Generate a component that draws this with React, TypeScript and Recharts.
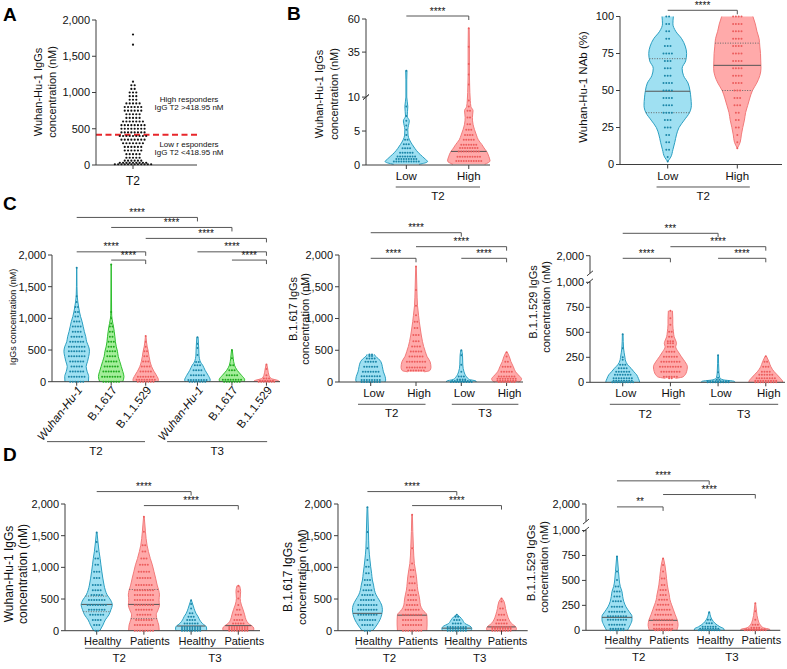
import React from 'react';
import { ComposedChart, Area, Scatter, XAxis, YAxis, ReferenceLine } from 'recharts';

// [value, relative half-width of the violin, dots drawn in that row]
type Lv = [number, number, number];
type Pal = { fill: string; stroke: string; dot: string };

const AXIS = '#3d3d3d';
const INK = '#111111';
const YW = 40;
const BLUE: Pal = { fill: '#9fe0f2', stroke: '#2b9fc1', dot: '#1c86a8' };
const RED: Pal = { fill: '#ffaaaa', stroke: '#f27a7a', dot: '#ec5d5d' };
const GREEN: Pal = { fill: '#a4ee9a', stroke: '#2fbf2f', dot: '#1faa1f' };

const ident = (v: number) => v;
const brkB = (v: number) => (v <= 10 ? v : 11.75 + (v - 10) * 0.195);
const brkK = (v: number) => (v <= 1000 ? v : 1100 + (v - 1000) * 0.166);

const nm2000 = [0, 500, 1000, 1500, 2000];
const nm2000Labels = ['0', '500', '1,000', '1,500', '2,000'];
const nmBroken = [0, 250, 500, 750, 1000, 2000];
const nmBrokenLabels = ['0', '250', '500', '750', '1,000', '2,000'];

// ---------- A ----------
const aCats = ['T2'];
const aCutoff = 418.95;
const aDots: [number, number][] = [
  [10, 12], [30, 9], [60, 6], [100, 5], [150, 5], [200, 6], [250, 6], [300, 7], [350, 8], [400, 9],
  [450, 8], [500, 8], [550, 8], [600, 7], [650, 5], [700, 5], [750, 6], [800, 6], [850, 5], [900, 3],
  [950, 3], [1000, 3], [1050, 2], [1100, 2], [1150, 1], [1660, 1], [1800, 1],
];

// ---------- B ----------
const lowHigh = ['Low', 'High'];
const bLeftTicks = [0, 5, 10, 35, 60];
const bLeftTickLabels = ['0', '5', '10', '35', '60'];
const bLeftLow: Lv[] = [
  [0.1, 0.6, 0], [0.5, 1, 11], [0.9, 0.88, 9], [1.25, 0.76, 8], [1.8, 0.57, 6], [2.45, 0.4, 4],
  [3.05, 0.27, 3], [3.7, 0.15, 2], [4.4, 0.08, 1], [5.2, 0.07, 1], [5.8, 0.1, 1], [6.5, 0.14, 1],
  [7.2, 0.04, 1], [8.6, 0.07, 1], [10, 0.02, 0], [14, 0.02, 0], [21, 0.03, 1],
];
const bLeftHigh: Lv[] = [
  [0.1, 0.75, 0], [0.6, 1, 11], [1.2, 0.95, 10], [2.0, 0.84, 9], [2.5, 0.72, 8], [3.0, 0.62, 7],
  [3.7, 0.45, 5], [4.4, 0.36, 4], [5.2, 0.27, 3], [6.0, 0.2, 2], [7.0, 0.17, 2], [8.0, 0.2, 2],
  [8.6, 0.1, 1], [9.5, 0.07, 1], [10.5, 0.04, 1], [18, 0.03, 1], [26, 0.03, 1], [39, 0.03, 1], [53, 0.02, 1],
];
const bRightTicks = [0, 25, 50, 75, 100];
const bRightTickLabels = ['0', '25', '50', '75', '100'];
const bRightLow: Lv[] = [
  [2, 0, 1], [5, 0.13, 1], [10, 0.22, 2], [15, 0.3, 2], [20, 0.37, 2], [25, 0.48, 3], [30, 0.7, 3],
  [35, 0.92, 4], [40, 1, 4], [45, 0.98, 4], [50, 0.94, 4], [55, 0.86, 4], [60, 0.67, 3], [65, 0.61, 3],
  [70, 0.76, 3], [75, 0.8, 4], [80, 0.74, 3], [85, 0.59, 2], [90, 0.34, 2], [95, 0.22, 2], [100, 0.24, 2],
];
const bRightHigh: Lv[] = [
  [11, 0, 1], [15, 0.12, 1], [20, 0.17, 1], [25, 0.23, 2], [30, 0.3, 2], [35, 0.35, 2], [40, 0.44, 3],
  [45, 0.53, 3], [50, 0.64, 3], [55, 0.82, 4], [60, 0.95, 4], [65, 1, 4], [70, 0.99, 4], [75, 0.98, 4],
  [80, 0.95, 4], [85, 0.92, 4], [90, 0.83, 4], [95, 0.76, 4], [100, 0.66, 4],
];

// ---------- C ----------
const cLeftCats = ['Wuhan-Hu-1', 'B.1.617', 'B.1.1.529', 'Wuhan-Hu-1', 'B.1.617', 'B.1.1.529'];
const cWuhanT2: Lv[] = [
  [0, 0.92, 6], [80, 0.94, 7], [160, 0.82, 6], [240, 0.74, 5], [320, 0.85, 6], [400, 0.94, 7], [480, 1, 7],
  [550, 0.94, 7], [630, 0.78, 6], [710, 0.71, 5], [790, 0.6, 4], [870, 0.51, 4], [950, 0.42, 3],
  [1030, 0.3, 2], [1100, 0.22, 2], [1180, 0.15, 2], [1260, 0.09, 1], [1350, 0.04, 1], [1500, 0.02, 0], [1800, 0.01, 1],
];
const cB617T2: Lv[] = [
  [0, 0.9, 7], [80, 1, 8], [160, 0.91, 7], [240, 0.79, 6], [320, 0.67, 5], [400, 0.55, 4], [480, 0.49, 4],
  [550, 0.4, 3], [630, 0.33, 3], [710, 0.29, 2], [790, 0.24, 2], [870, 0.18, 2], [920, 0.13, 1],
  [1000, 0.06, 1], [1100, 0.03, 1], [1400, 0.02, 0], [1850, 0.01, 1],
];
const cB529T2: Lv[] = [
  [0, 0.95, 7], [30, 1, 8], [80, 0.9, 7], [160, 0.66, 5], [240, 0.46, 4], [320, 0.34, 3], [400, 0.26, 2],
  [480, 0.2, 2], [550, 0.12, 1], [630, 0.06, 1], [720, 0.02, 1],
];
const cWuhanT3: Lv[] = [
  [0, 0.95, 7], [25, 1, 8], [100, 0.84, 6], [180, 0.6, 4], [260, 0.41, 3], [310, 0.24, 2], [420, 0.12, 1],
  [530, 0.1, 1], [600, 0.08, 1], [700, 0.05, 1],
];
const cB617T3: Lv[] = [
  [0, 0.95, 7], [30, 1, 8], [100, 0.75, 5], [180, 0.41, 3], [260, 0.2, 2], [370, 0.1, 1], [500, 0.03, 1],
];
const cB529T3: Lv[] = [
  [0, 1, 7], [15, 0.95, 6], [50, 0.38, 3], [100, 0.2, 1], [200, 0.1, 1], [270, 0.03, 1],
];
const lowHigh4 = ['Low', 'High', 'Low', 'High'];
const cmLowT2: Lv[] = [
  [0, 0.95, 8], [30, 1, 8], [90, 0.96, 8], [160, 0.85, 7], [240, 0.78, 6], [320, 0.68, 5], [370, 0.5, 4],
  [410, 0.3, 2], [435, 0.25, 2],
];
const cmHighT2: Lv[] = [
  [160, 0.55, 0], [180, 0.92, 7], [230, 1, 8], [320, 0.94, 8], [400, 0.74, 6], [480, 0.62, 5], [560, 0.51, 4],
  [640, 0.43, 3], [740, 0.35, 3], [850, 0.28, 2], [950, 0.22, 2], [1050, 0.17, 1], [1200, 0.1, 1],
  [1450, 0.06, 1], [1820, 0.02, 1],
];
const cmLowT3: Lv[] = [
  [0, 1, 9], [15, 0.98, 8], [40, 0.54, 4], [85, 0.34, 3], [160, 0.18, 1], [270, 0.1, 1], [420, 0.08, 1], [500, 0.03, 1],
];
const cmHighT3: Lv[] = [
  [0, 0.8, 7], [20, 0.95, 8], [50, 1, 8], [85, 0.89, 7], [160, 0.6, 5], [240, 0.45, 4], [320, 0.29, 2],
  [400, 0.18, 1], [467, 0.05, 1],
];
const crLowT2: Lv[] = [
  [0, 1, 9], [15, 0.98, 8], [40, 0.92, 8], [75, 0.82, 7], [105, 0.66, 6], [140, 0.49, 4], [175, 0.29, 3],
  [225, 0.15, 1], [250, 0.13, 1], [340, 0.05, 1], [480, 0.02, 1],
];
const crHighT2: Lv[] = [
  [40, 0.3, 2], [55, 0.75, 6], [105, 0.95, 8], [155, 1, 9], [205, 0.86, 8], [255, 0.65, 6], [305, 0.46, 4],
  [355, 0.31, 3], [390, 0.36, 3], [410, 0.33, 3], [455, 0.22, 2], [505, 0.18, 2], [575, 0.14, 1],
  [640, 0.14, 1], [715, 0.12, 1],
];
const crLowT3: Lv[] = [[0, 1, 9], [10, 0.95, 9], [25, 0.3, 2], [45, 0.1, 1], [100, 0.05, 1], [270, 0.02, 1]];
const crHighT3: Lv[] = [
  [0, 1, 9], [15, 0.98, 9], [40, 0.86, 8], [75, 0.67, 6], [105, 0.5, 4], [155, 0.3, 3], [205, 0.19, 2], [260, 0.04, 1],
];

// ---------- D ----------
const hp4 = ['Healthy', 'Patients', 'Healthy', 'Patients'];
const dlHT2: Lv[] = [
  [0, 0.2, 2], [90, 0.4, 3], [170, 0.55, 4], [250, 0.78, 6], [330, 0.91, 7], [405, 1, 8], [485, 0.89, 7],
  [565, 0.67, 5], [640, 0.55, 4], [720, 0.47, 4], [830, 0.39, 3], [930, 0.33, 3], [1040, 0.27, 2],
  [1140, 0.22, 2], [1250, 0.15, 1], [1400, 0.08, 1], [1550, 0.02, 1],
];
const dlPT2: Lv[] = [
  [0, 0.98, 8], [90, 0.95, 8], [170, 0.85, 7], [250, 0.79, 6], [330, 0.91, 7], [405, 1, 8], [485, 0.97, 8],
  [565, 1, 8], [640, 0.95, 8], [720, 0.85, 7], [830, 0.75, 6], [930, 0.65, 5], [1040, 0.54, 4],
  [1140, 0.41, 3], [1250, 0.29, 2], [1350, 0.2, 2], [1560, 0.1, 1], [1800, 0.02, 1],
];
const dlHT3: Lv[] = [
  [0, 0.95, 8], [25, 1, 8], [60, 0.98, 8], [115, 0.72, 6], [170, 0.55, 4], [220, 0.45, 3], [275, 0.31, 2],
  [350, 0.19, 1], [420, 0.1, 1], [480, 0.02, 1],
];
const dlPT3: Lv[] = [
  [0, 0.95, 8], [25, 1, 8], [60, 0.95, 8], [115, 0.65, 5], [170, 0.5, 4], [250, 0.41, 3], [330, 0.31, 2],
  [405, 0.2, 1], [510, 0.12, 1], [620, 0.15, 1], [710, 0.08, 1],
];
const dmHT2: Lv[] = [
  [0, 0.35, 3], [90, 0.63, 5], [170, 0.83, 7], [250, 0.95, 8], [330, 1, 8], [405, 0.95, 8], [485, 0.78, 6],
  [565, 0.58, 5], [640, 0.47, 4], [720, 0.41, 3], [800, 0.33, 3], [905, 0.28, 2], [1010, 0.22, 2],
  [1115, 0.17, 1], [1300, 0.1, 1], [1560, 0.07, 1], [1950, 0.02, 1],
];
const dmPT2: Lv[] = [
  [0, 0.98, 8], [90, 1, 8], [170, 1, 8], [250, 0.98, 8], [330, 0.7, 6], [405, 0.55, 5], [485, 0.51, 4],
  [565, 0.45, 4], [640, 0.38, 3], [750, 0.33, 3], [850, 0.29, 2], [960, 0.22, 2], [1060, 0.15, 1],
  [1300, 0.09, 1], [1830, 0.02, 1],
];
const dmHT3: Lv[] = [[0, 0.95, 8], [30, 1, 8], [60, 0.95, 8], [115, 0.54, 4], [170, 0.38, 3], [220, 0.2, 2], [250, 0.04, 1]];
const dmPT3: Lv[] = [
  [0, 0.95, 8], [30, 1, 8], [60, 0.95, 8], [115, 0.67, 5], [170, 0.51, 4], [250, 0.38, 3], [350, 0.27, 2],
  [460, 0.17, 1], [510, 0.03, 1],
];
const drHT2: Lv[] = [
  [0, 0.7, 6], [15, 0.75, 6], [55, 0.89, 7], [105, 1, 8], [140, 1, 8], [185, 0.82, 7], [235, 0.6, 5],
  [290, 0.45, 4], [340, 0.38, 3], [390, 0.33, 3], [440, 0.22, 2], [505, 0.15, 1], [590, 0.1, 1], [740, 0.02, 1],
];
const drPT2: Lv[] = [
  [0, 0.92, 7], [15, 0.95, 8], [55, 1, 8], [105, 0.94, 8], [155, 0.81, 7], [205, 0.69, 6], [255, 0.57, 5],
  [305, 0.46, 4], [355, 0.41, 3], [405, 0.34, 3], [455, 0.28, 2], [520, 0.23, 2], [590, 0.18, 1],
  [655, 0.12, 1], [720, 0.03, 1],
];
const drHT3: Lv[] = [[0, 1, 9], [15, 0.98, 8], [35, 0.72, 6], [70, 0.39, 3], [105, 0.2, 2], [180, 0.03, 1]];
const drPT3: Lv[] = [[0, 1, 9], [10, 0.95, 8], [25, 0.55, 4], [55, 0.33, 3], [105, 0.18, 1], [190, 0.08, 1], [270, 0.02, 1]];

// significance brackets: from / to category position, height in axis units
type Br = { a: number; b: number; y: number; t: string };
type Grp = { a: number; b: number; t: string };
const S4 = '****';

interface Violin { pos: number; pal: Pal; lv: Lv[]; med?: number[]; qs?: number[] }
interface Geo { axisX: number; axisEnd: number; yTop: number; yZero: number; cTop: number; cBottom: number; mr: number }
interface PanelDef {
  geo: Geo;
  xDomain: [number, number];
  yDomain: [number, number];
  yTicks: number[];
  yLabels: string[];
  positions: number[];
  xLabels: string[];
  labelDx: number;
  labelDy: number;
  labelSize: number;
  rotate?: boolean;
  halfW: number;
  dotPx: number;
  yMap?: (v: number) => number;
  violins: Violin[];
  brackets: Br[];
  groups: Grp[];
  groupY: number;
  pieces?: [number, number][];
  swarm?: [number, number][];
  cutoff?: number;
}

const bLeftYTicks = bLeftTicks.map(brkB);
const brokenYTicks = nmBroken.map(brkK);

const panels: PanelDef[] = [
  {
    geo: { axisX: 96, axisEnd: 197, yTop: 20, yZero: 165, cTop: 0, cBottom: 200, mr: 4 },
    xDomain: [0.075, 2.6], yDomain: [0, 2000], yTicks: nm2000, yLabels: nm2000Labels,
    positions: [1], xLabels: aCats, labelDx: 0, labelDy: 5, labelSize: 12,
    halfW: 0, dotPx: 3.3, violins: [], brackets: [], groups: [], groupY: 0,
    swarm: aDots, cutoff: aCutoff,
  },
  {
    geo: { axisX: 366, axisEnd: 490, yTop: 19, yZero: 165, cTop: 0, cBottom: 210, mr: 8 },
    xDomain: [0.354, 2.262], yDomain: [0, brkB(60)], yTicks: bLeftYTicks, yLabels: bLeftTickLabels,
    positions: [1, 2], xLabels: lowHigh, labelDx: 0, labelDy: 1, labelSize: 11.5,
    halfW: 0.34, dotPx: 2.6, yMap: brkB,
    violins: [
      { pos: 1, pal: BLUE, lv: bLeftLow },
      { pos: 2, pal: RED, lv: bLeftHigh, med: [2.0] },
    ],
    brackets: [{ a: 1, b: 2, y: 21.94, t: S4 }],
    groups: [{ a: 0.83, b: 2.18, t: 'T2' }], groupY: -3.24,
    pieces: [[0, 10], [brkB(10), brkB(60)]],
  },
  {
    geo: { axisX: 620, axisEnd: 782, yTop: 16.5, yZero: 164.5, cTop: 0, cBottom: 210, mr: 4 },
    xDomain: [0.315, 2.642], yDomain: [0, 100], yTicks: bRightTicks, yLabels: bRightTickLabels,
    positions: [1, 2], xLabels: lowHigh, labelDx: 0, labelDy: 1, labelSize: 11.5,
    halfW: 0.34, dotPx: 2.8,
    violins: [
      { pos: 1, pal: BLUE, lv: bRightLow, med: [49.5], qs: [35, 71.5] },
      { pos: 2, pal: RED, lv: bRightHigh, med: [67], qs: [50, 82] },
    ],
    brackets: [{ a: 1, b: 2, y: 104.2, t: S4 }],
    groups: [{ a: 0.84, b: 2.18, t: 'T2' }], groupY: -15.2,
  },
  {
    geo: { axisX: 52, axisEnd: 280, yTop: 255, yZero: 381.7, cTop: 200, cBottom: 465, mr: 6 },
    xDomain: [0.284, 6.893], yDomain: [0, 2000], yTicks: nm2000, yLabels: nm2000Labels,
    positions: [1, 2, 3, 4.5, 5.5, 6.5], xLabels: cLeftCats, labelDx: 0, labelDy: 0, labelSize: 11.5, rotate: true,
    halfW: 0.37, dotPx: 2.6,
    violins: [
      { pos: 1, pal: BLUE, lv: cWuhanT2 },
      { pos: 2, pal: GREEN, lv: cB617T2 },
      { pos: 3, pal: RED, lv: cB529T2 },
      { pos: 4.5, pal: BLUE, lv: cWuhanT3 },
      { pos: 5.5, pal: GREEN, lv: cB617T3 },
      { pos: 6.5, pal: RED, lv: cB529T3 },
    ],
    brackets: [
      { a: 1, b: 4.5, y: 2593, t: S4 }, { a: 2, b: 5.5, y: 2435, t: S4 }, { a: 3, b: 6.5, y: 2262, t: S4 },
      { a: 1, b: 3, y: 2050, t: S4 }, { a: 2, b: 3, y: 1920, t: S4 },
      { a: 4.5, b: 6.5, y: 2050, t: S4 }, { a: 5.5, b: 6.5, y: 1920, t: S4 },
    ],
    groups: [{ a: 0.14, b: 2.98, t: 'T2' }, { a: 3.62, b: 6.52, t: 'T3' }], groupY: -946,
  },
  {
    geo: { axisX: 339, axisEnd: 523, yTop: 255, yZero: 382, cTop: 200, cBottom: 425, mr: 6 },
    xDomain: [0.3, 4.362], yDomain: [0, 2000], yTicks: nm2000, yLabels: nm2000Labels,
    positions: [1, 2, 3, 4], xLabels: lowHigh4, labelDx: 3, labelDy: 1, labelSize: 11.5,
    halfW: 0.33, dotPx: 2.6,
    violins: [
      { pos: 1, pal: BLUE, lv: cmLowT2 },
      { pos: 2, pal: RED, lv: cmHighT2 },
      { pos: 3, pal: BLUE, lv: cmLowT3 },
      { pos: 4, pal: RED, lv: cmHighT3 },
    ],
    brackets: [
      { a: 1, b: 3, y: 2351, t: S4 }, { a: 2, b: 4, y: 2131, t: S4 },
      { a: 1, b: 2, y: 1948, t: S4 }, { a: 3, b: 4, y: 1948, t: S4 },
    ],
    groups: [{ a: 0.72, b: 2.21, t: 'T2' }, { a: 2.79, b: 4.26, t: 'T3' }], groupY: -351,
  },
  {
    geo: { axisX: 590, axisEnd: 785, yTop: 255.7, yZero: 382.3, cTop: 200, cBottom: 425, mr: 2 },
    xDomain: [0.314, 4.403], yDomain: [0, brkK(2000)], yTicks: brokenYTicks, yLabels: nmBrokenLabels,
    positions: [1, 2, 3, 4], xLabels: lowHigh4, labelDx: 3, labelDy: 1, labelSize: 11.5,
    halfW: 0.356, dotPx: 2.6,
    violins: [
      { pos: 1, pal: BLUE, lv: crLowT2 },
      { pos: 2, pal: RED, lv: crHighT2 },
      { pos: 3, pal: BLUE, lv: crLowT3 },
      { pos: 4, pal: RED, lv: crHighT3 },
    ],
    brackets: [
      { a: 1, b: 3, y: 1490, t: '***' }, { a: 2, b: 4, y: 1356, t: S4 },
      { a: 1, b: 2, y: 1240, t: S4 }, { a: 3, b: 4, y: 1240, t: S4 },
    ],
    groups: [{ a: 0.73, b: 2.21, t: 'T2' }, { a: 2.81, b: 4.26, t: 'T3' }], groupY: -220,
    pieces: [[0, 1010], [1090, brkK(2000)]],
  },
  {
    geo: { axisX: 65, axisEnd: 260, yTop: 504, yZero: 630.7, cTop: 470, cBottom: 669, mr: 6 },
    xDomain: [0.328, 4.46], yDomain: [0, 2000], yTicks: nm2000, yLabels: nm2000Labels,
    positions: [1, 2, 3, 4], xLabels: hp4, labelDx: 6, labelDy: 0, labelSize: 11,
    halfW: 0.33, dotPx: 2.6,
    violins: [
      { pos: 1, pal: BLUE, lv: dlHT2, med: [415], qs: [300, 547] },
      { pos: 2, pal: RED, lv: dlPT2, med: [415], qs: [190, 650] },
      { pos: 3, pal: BLUE, lv: dlHT3, med: [74] },
      { pos: 4, pal: RED, lv: dlPT3, med: [80] },
    ],
    brackets: [{ a: 1, b: 3, y: 2196, t: S4 }, { a: 2, b: 4, y: 1975, t: S4 }],
    groups: [{ a: 0.75, b: 2.2, t: 'T2' }, { a: 2.76, b: 4.25, t: 'T3' }], groupY: -278,
  },
  {
    geo: { axisX: 338.3, axisEnd: 528, yTop: 504, yZero: 630.7, cTop: 470, cBottom: 669, mr: 6 },
    xDomain: [0.342, 4.586], yDomain: [0, 2000], yTicks: nm2000, yLabels: nm2000Labels,
    positions: [1, 2, 3, 4], xLabels: hp4, labelDx: 6, labelDy: 0, labelSize: 11,
    halfW: 0.335, dotPx: 2.6,
    violins: [
      { pos: 1, pal: BLUE, lv: dmHT2, med: [274] },
      { pos: 2, pal: RED, lv: dmPT2, med: [245] },
      { pos: 3, pal: BLUE, lv: dmHT3, med: [40] },
      { pos: 4, pal: RED, lv: dmPT3, med: [60] },
    ],
    brackets: [{ a: 1, b: 3, y: 2196, t: S4 }, { a: 2, b: 4, y: 1975, t: S4 }],
    groups: [{ a: 0.75, b: 2.24, t: 'T2' }, { a: 2.77, b: 4.26, t: 'T3' }], groupY: -278,
  },
  {
    geo: { axisX: 585.7, axisEnd: 780, yTop: 504, yZero: 630.3, cTop: 470, cBottom: 669, mr: 6 },
    xDomain: [0.328, 4.542], yDomain: [0, brkK(2000)], yTicks: brokenYTicks, yLabels: nmBrokenLabels,
    positions: [1, 2, 3, 4], xLabels: hp4, labelDx: 6, labelDy: 0, labelSize: 11,
    halfW: 0.325, dotPx: 2.6,
    violins: [
      { pos: 1, pal: BLUE, lv: drHT2, med: [130] },
      { pos: 2, pal: RED, lv: drPT2, med: [100] },
      { pos: 3, pal: BLUE, lv: drHT3 },
      { pos: 4, pal: RED, lv: drPT3 },
    ],
    brackets: [{ a: 1, b: 3, y: 1498, t: S4 }, { a: 2, b: 4, y: 1361, t: S4 }, { a: 1, b: 2, y: 1237, t: '**' }],
    groups: [{ a: 0.75, b: 2.19, t: 'T2' }, { a: 2.77, b: 4.22, t: 'T3' }], groupY: -180,
    pieces: [[0, 1010], [1090, brkK(2000)]],
  },
];

const letters: [string, number, number][] = [['A', 3, 21], ['B', 287, 20], ['C', 3, 210], ['D', 3, 461]];
const titles: [string, number, number, number][] = [
  ['Wuhan-Hu-1 IgGs', 37.5, 92, 11], ['concentration (nM)', 51.7, 92, 11],
  ['Wuhan-Hu-1 IgGs', 319, 94, 11], ['concentration (nM)', 334, 94, 11],
  ['Wuhan-Hu-1 NAb (%)', 582.5, 87, 11.5],
  ['IgGs concentration (nM)', 12.5, 317, 9],
  ['B.1.617 IgGs', 293, 309, 11], ['concentration (nM)', 305, 319, 11],
  ['B.1.1.529 IgGs', 532.5, 302, 11], ['concentration (nM)', 546, 307, 11],
  ['Wuhan-Hu-1 IgGs', 8.5, 574, 12], ['concentration (nM)', 22.5, 574, 12],
  ['B.1.617 IgGs', 288, 577, 12], ['concentration (nM)', 301.7, 577, 11.5],
  ['B.1.1.529 IgGs', 531, 563, 11.5], ['concentration (nM)', 544, 567, 11],
];
const aNotes: [string, number][] = [
  ['High responders', 102], ['IgG T2 >418.95 nM', 110], ['Low r esponders', 147], ['IgG T2 <418.95 nM', 154.5],
];

function relAt(lv: Lv[], v: number) {
  for (let i = 1; i < lv.length; i++) {
    const [v0, r0] = lv[i - 1];
    const [v1, r1] = lv[i];
    if (v >= v0 && v <= v1) return r0 + ((r1 - r0) * (v - v0)) / (v1 - v0);
  }
  return 0;
}

function rowDots(lv: Lv[], pos: number, halfW: number, gap: number, map: (v: number) => number) {
  const out: { x: number; y: number }[] = [];
  lv.forEach(([v, rel, n]) => {
    if (n <= 0) return;
    const room = 0.8 * rel * halfW;
    const g = n > 1 ? Math.min(gap, (2 * room) / (n - 1)) : 0;
    for (let k = 0; k < n; k++) out.push({ x: pos + (k - (n - 1) / 2) * g, y: map(v) });
  });
  return out;
}

// text above a bracket / below a group line, placed from the line's own box
const starLabel = (t: string) => (lp: any) => {
  const vb = lp.viewBox;
  return <text x={vb.x + vb.width / 2} y={vb.y - 1.5} textAnchor="middle" fontSize={10} fill={INK}>{t}</text>;
};
const groupLabel = (t: string) => (lp: any) => {
  const vb = lp.viewBox;
  return <text x={vb.x + vb.width / 2} y={vb.y + vb.height + 4} dy="0.8em" textAnchor="middle" fontSize={11.5} fill={INK}>{t}</text>;
};

function CatTick(props: any) {
  const { x, y, payload, p } = props;
  const i = p.positions.indexOf(payload.value);
  const label = p.xLabels[i] ?? '';
  if (p.rotate) {
    return (
      <g transform={`translate(${x + 3},${y})`}>
        <text transform="rotate(-52)" textAnchor="end" dy="0.35em" fontSize={p.labelSize} fill={INK}
          fontStyle={label.startsWith('Wuhan') ? 'italic' : 'normal'}>{label}</text>
      </g>
    );
  }
  return (
    <text x={x + p.labelDx} y={y + p.labelDy} dy="0.71em" textAnchor="middle" fontSize={p.labelSize} fill={INK}>{label}</text>
  );
}

function Panel({ p }: { p: PanelDef }) {
  const g = p.geo;
  const left = g.axisX - YW;
  const width = g.axisEnd + g.mr - left;
  const mt = g.yTop - g.cTop;
  const plotH = g.yZero - g.yTop;
  const height = g.cBottom - g.cTop;
  const hx = height - mt - plotH;
  const slotPx = (g.axisEnd - g.axisX) / (p.xDomain[1] - p.xDomain[0]);
  const unitPx = plotH / (p.yDomain[1] - p.yDomain[0]);
  const map = p.yMap ?? ident;
  const gap = p.dotPx / slotPx;
  const x0 = p.xDomain[0];
  const drop = 4 / unitPx;
  const sx = 3 / slotPx;
  const sy = 2.5 / unitPx;

  return (
    <div style={{ position: 'absolute', left, top: g.cTop }}>
      <ComposedChart layout="vertical" width={width} height={height} margin={{ top: mt, right: g.mr, bottom: 0, left: 0 }}>
        <XAxis type="number" domain={p.xDomain} ticks={p.positions} interval={0} height={hx} tickSize={4}
          stroke={AXIS} tick={(t: any) => <CatTick {...t} p={p} />} />
        <YAxis type="number" dataKey="y" reversed domain={p.yDomain} ticks={p.yTicks} interval={0} width={YW} tickSize={4}
          stroke={AXIS} axisLine={!p.pieces} tick={{ fontSize: 11, fill: INK }}
          tickFormatter={(v: number) => p.yLabels[p.yTicks.indexOf(v)] ?? ''} />
        {p.pieces && p.pieces.map(([a, b], i) => (
          <ReferenceLine key={`pc${i}`} segment={[{ x: x0, y: a }, { x: x0, y: b }]} stroke={AXIS} ifOverflow="visible" />
        ))}
        {p.pieces && p.pieces.map(([a, b], i) => (
          <ReferenceLine key={`sl${i}`} segment={[{ x: x0 - sx, y: (i === 0 ? b : a) - sy }, { x: x0 + sx, y: (i === 0 ? b : a) + sy }]}
            stroke={AXIS} ifOverflow="visible" />
        ))}
        {p.violins.map((v, i) => (
          <Area key={`v${i}`} data={v.lv.map(([val, rel]) => ({ y: map(val), r: [v.pos - rel * p.halfW, v.pos + rel * p.halfW] }))}
            dataKey="r" type="monotone" fill={v.pal.fill} fillOpacity={1} stroke={v.pal.stroke} strokeWidth={1}
            dot={false} activeDot={false} isAnimationActive={false} />
        ))}
        {p.violins.map((v, i) => (
          <Scatter key={`d${i}`} data={rowDots(v.lv, v.pos, p.halfW, gap, map)} dataKey="x" isAnimationActive={false}
            shape={(s: any) => <circle cx={s.cx} cy={s.cy} r={1} fill={v.pal.dot} />} />
        ))}
        {p.violins.flatMap((v, i) => (v.med ?? []).map((m, j) => {
          const w = relAt(v.lv, m) * p.halfW;
          return <ReferenceLine key={`m${i}-${j}`} segment={[{ x: v.pos - w, y: map(m) }, { x: v.pos + w, y: map(m) }]}
            stroke="#555" strokeWidth={1} ifOverflow="visible" />;
        }))}
        {p.violins.flatMap((v, i) => (v.qs ?? []).map((m, j) => {
          const w = relAt(v.lv, m) * p.halfW;
          return <ReferenceLine key={`q${i}-${j}`} segment={[{ x: v.pos - w, y: map(m) }, { x: v.pos + w, y: map(m) }]}
            stroke="#666" strokeWidth={1} strokeDasharray="1 1.5" ifOverflow="visible" />;
        }))}
        {p.swarm && (
          <Scatter data={p.swarm.flatMap(([val, n]) => Array.from({ length: n }, (_, k) => ({ x: 1 + (k - (n - 1) / 2) * gap, y: val })))}
            dataKey="x" isAnimationActive={false} shape={(s: any) => <circle cx={s.cx} cy={s.cy} r={1.1} fill="#111" />} />
        )}
        {p.cutoff !== undefined && (
          <ReferenceLine y={p.cutoff} stroke="#e8262b" strokeWidth={2} strokeDasharray="6 3.5" ifOverflow="visible" />
        )}
        {p.brackets.map((b, i) => (
          <ReferenceLine key={`b${i}`} segment={[{ x: b.a, y: b.y }, { x: b.b, y: b.y }]} stroke="#555" ifOverflow="visible"
            label={starLabel(b.t)} />
        ))}
        {p.brackets.map((b, i) => (
          <ReferenceLine key={`bd${i}`} segment={[{ x: b.b, y: b.y }, { x: b.b, y: b.y - drop }]} stroke="#555" ifOverflow="visible" />
        ))}
        {p.groups.map((gr, i) => (
          <ReferenceLine key={`g${i}`} segment={[{ x: gr.a, y: p.groupY }, { x: gr.b, y: p.groupY }]} stroke="#555" ifOverflow="visible"
            label={groupLabel(gr.t)} />
        ))}
      </ComposedChart>
    </div>
  );
}

export default function App() {
  return (
    <div style={{ position: 'absolute', left: 0, top: 0, width: 787, height: 669, overflow: 'hidden', background: '#fff',
      fontFamily: '"Liberation Sans", Arial, sans-serif' }}>
      {panels.map((p, i) => <Panel key={i} p={p} />)}
      <svg width={787} height={669} style={{ position: 'absolute', left: 0, top: 0, pointerEvents: 'none' }}>
        {letters.map(([t, x, y]) => (
          <text key={t} x={x} y={y} fontSize={19} fontWeight="bold" fill="#000">{t}</text>
        ))}
        {titles.map(([t, x, y, fs], i) => (
          <text key={i} transform={`translate(${x},${y}) rotate(-90)`} textAnchor="middle" dominantBaseline="central"
            fontSize={fs} fill={INK}>{t}</text>
        ))}
        {aNotes.map(([t, y], i) => (
          <text key={i} x={189} y={y} textAnchor="middle" fontSize={8} fill={INK}>{t}</text>
        ))}
      </svg>
    </div>
  );
}
